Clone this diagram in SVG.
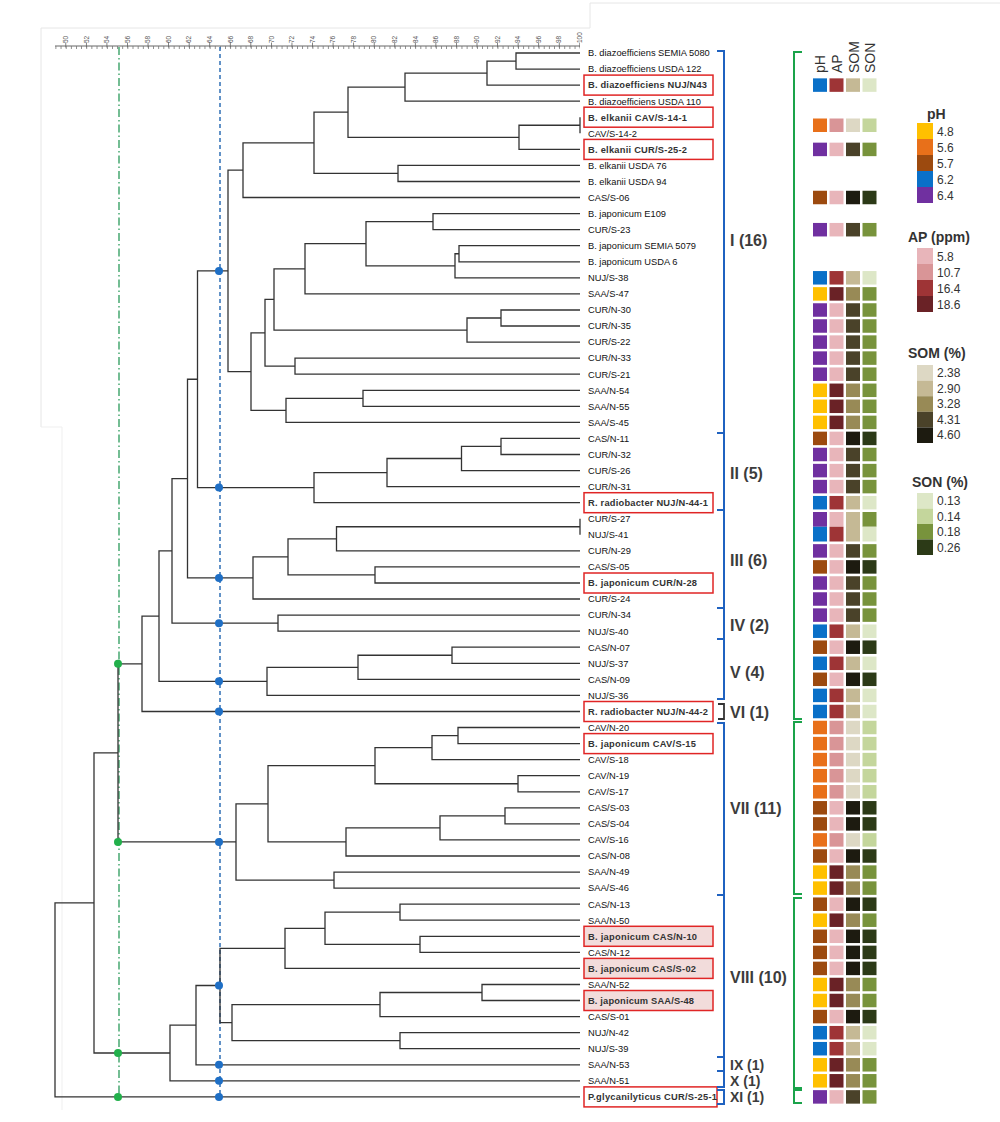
<svg xmlns="http://www.w3.org/2000/svg" xmlns:xlink="http://www.w3.org/1999/xlink" width="1000" height="1122" viewBox="0 0 1000 1122">
<style>
.tr{fill:none;stroke:#333;stroke-width:1.3}
.lb{font-family:"Liberation Sans",Arial,sans-serif;font-size:9.3px;fill:#111}
.bx{font-family:"Liberation Sans",Arial,sans-serif;font-size:9.3px;fill:#333;font-weight:bold}
.rb{fill:#fff;stroke:#e02525;stroke-width:1.5}
.rp{fill:#f2dcdb;stroke:#e02525;stroke-width:1.5}
.cl{font-family:"Liberation Sans",Arial,sans-serif;font-size:16px;font-weight:bold;fill:#3c3c3c}
.cs{font-family:"Liberation Sans",Arial,sans-serif;font-size:14px;font-weight:bold;fill:#3c3c3c}
.bb{fill:none;stroke:#1f62c0;stroke-width:2}
.gb{fill:none;stroke:#1aa34a;stroke-width:2}
.rl{font-family:"Liberation Sans",Arial,sans-serif;font-size:6.5px;fill:#555}
.hd{font-family:"Liberation Sans",Arial,sans-serif;font-size:14px;fill:#333}
.lt{font-family:"Liberation Sans",Arial,sans-serif;font-size:14px;font-weight:bold;fill:#333}
.lv{font-family:"Liberation Sans",Arial,sans-serif;font-size:12px;fill:#333}
.p48{fill:#ffc000}.p56{fill:#e8701a}.p57{fill:#9c4a0f}.p62{fill:#0a70c8}.p64{fill:#7030a0}
.a58{fill:#e8b5ba}.a107{fill:#d99597}.a164{fill:#9e3436}.a186{fill:#6a2226}
.s238{fill:#ddd8c4}.s290{fill:#c5b995}.s328{fill:#988a56}.s431{fill:#4a4229}.s460{fill:#1d1b10}
.n13{fill:#dde7c7}.n14{fill:#c4d69c}.n18{fill:#78933c}.n26{fill:#2c3a17}
.bd{fill:#1f6fc5}.gd{fill:#22b04b}
</style>
<defs>
<g id="rB"><rect x="813" y="-6.75" width="14" height="13.5" class="p62"/><rect x="829.5" y="-6.75" width="14" height="13.5" class="a164"/><rect x="846" y="-6.75" width="14" height="13.5" class="s290"/><rect x="862.5" y="-6.75" width="14" height="13.5" class="n13"/></g>
<g id="rP"><rect x="813" y="-6.75" width="14" height="13.5" class="p64"/><rect x="829.5" y="-6.75" width="14" height="13.5" class="a58"/><rect x="846" y="-6.75" width="14" height="13.5" class="s431"/><rect x="862.5" y="-6.75" width="14" height="13.5" class="n18"/></g>
<g id="rY"><rect x="813" y="-6.75" width="14" height="13.5" class="p48"/><rect x="829.5" y="-6.75" width="14" height="13.5" class="a186"/><rect x="846" y="-6.75" width="14" height="13.5" class="s328"/><rect x="862.5" y="-6.75" width="14" height="13.5" class="n18"/></g>
<g id="rR"><rect x="813" y="-6.75" width="14" height="13.5" class="p57"/><rect x="829.5" y="-6.75" width="14" height="13.5" class="a58"/><rect x="846" y="-6.75" width="14" height="13.5" class="s460"/><rect x="862.5" y="-6.75" width="14" height="13.5" class="n26"/></g>
<g id="rO"><rect x="813" y="-6.75" width="14" height="13.5" class="p56"/><rect x="829.5" y="-6.75" width="14" height="13.5" class="a107"/><rect x="846" y="-6.75" width="14" height="13.5" class="s238"/><rect x="862.5" y="-6.75" width="14" height="13.5" class="n14"/></g>
</defs>
<rect width="1000" height="1122" fill="#fff"/>
<path d="M41 427 V28 H590 V3 H1000" fill="none" stroke="#e6e6e6" stroke-width="1"/>
<path d="M41 427 H62 V1110" fill="none" stroke="#efefef" stroke-width="1"/>

<g id="ruler">
<line x1="55" y1="46" x2="580" y2="46" stroke="#666" stroke-width="1"/>
<line x1="55.5" y1="47.5" x2="580" y2="47.5" stroke="#777" stroke-width="3" stroke-dasharray="0.8 4.34"/>
<line x1="65.4" y1="45" x2="580" y2="45" stroke="#666" stroke-width="5" stroke-dasharray="0.8 19.76"/>
<text class="rl" transform="translate(68,43) rotate(-90)">50</text>
<text class="rl" transform="translate(88.6,43) rotate(-90)">52</text>
<text class="rl" transform="translate(109.1,43) rotate(-90)">54</text>
<text class="rl" transform="translate(129.7,43) rotate(-90)">56</text>
<text class="rl" transform="translate(150.2,43) rotate(-90)">58</text>
<text class="rl" transform="translate(170.8,43) rotate(-90)">60</text>
<text class="rl" transform="translate(191.4,43) rotate(-90)">62</text>
<text class="rl" transform="translate(211.9,43) rotate(-90)">64</text>
<text class="rl" transform="translate(232.5,43) rotate(-90)">66</text>
<text class="rl" transform="translate(253,43) rotate(-90)">68</text>
<text class="rl" transform="translate(273.6,43) rotate(-90)">70</text>
<text class="rl" transform="translate(294.2,43) rotate(-90)">72</text>
<text class="rl" transform="translate(314.7,43) rotate(-90)">74</text>
<text class="rl" transform="translate(335.3,43) rotate(-90)">76</text>
<text class="rl" transform="translate(355.8,43) rotate(-90)">78</text>
<text class="rl" transform="translate(376.4,43) rotate(-90)">80</text>
<text class="rl" transform="translate(397,43) rotate(-90)">82</text>
<text class="rl" transform="translate(417.5,43) rotate(-90)">84</text>
<text class="rl" transform="translate(438.1,43) rotate(-90)">86</text>
<text class="rl" transform="translate(458.6,43) rotate(-90)">88</text>
<text class="rl" transform="translate(479.2,43) rotate(-90)">90</text>
<text class="rl" transform="translate(499.8,43) rotate(-90)">92</text>
<text class="rl" transform="translate(520.3,43) rotate(-90)">94</text>
<text class="rl" transform="translate(540.9,43) rotate(-90)">96</text>
<text class="rl" transform="translate(561.4,43) rotate(-90)">98</text>
<text class="rl" transform="translate(582,43) rotate(-90)">100</text>
</g>

<g id="cutlines">
<line x1="119" y1="47" x2="119" y2="1100" stroke="#2a9a5a" stroke-width="1.3" stroke-dasharray="8 3 1.5 3"/>
<line x1="220" y1="47" x2="220" y2="1100" stroke="#2f6fb5" stroke-width="1.5" stroke-dasharray="4 3"/>
</g>

<g id="connectors" class="tr">
<path d="M580 53 H516 V69.1 H580"/>
<path d="M516 61.05 H487 V85.1 H580"/>
<path d="M487 73.1 H405 V101.2 H580"/>
<path d="M580 117.2 V133.3"/>
<path d="M580 125.25 H519 V149.4 H580"/>
<path d="M405 87.15 H348 V137.3 H519"/>
<path d="M580 165.4 H398 V181.5 H580"/>
<path d="M348 112.2 H314 V173.45 H398"/>
<path d="M314 142.8 H243 V197.5 H580"/>
<path d="M580 213.6 H433 V229.7 H580"/>
<path d="M580 245.7 H459 V261.8 H580"/>
<path d="M459 253.75 H455 V277.8 H580"/>
<path d="M433 221.65 H366 V265.8 H455"/>
<path d="M366 243.7 H305 V293.9 H580"/>
<path d="M580 310 H501 V326 H580"/>
<path d="M501 318 H467 V342.1 H580"/>
<path d="M305 268.8 H274 V330.05 H467"/>
<path d="M580 358.1 H295 V374.2 H580"/>
<path d="M274 299.4 H265 V366.15 H295"/>
<path d="M580 390.3 H363 V406.3 H580"/>
<path d="M363 398.3 H286 V422.4 H580"/>
<path d="M265 332.8 H251 V410.35 H286"/>
<path d="M243 170.15 H228 V371.6 H251"/>
<path d="M580 438.4 H501 V454.5 H580"/>
<path d="M501 446.45 H461.5 V470.6 H580"/>
<path d="M461.5 458.5 H387 V486.6 H580"/>
<path d="M387 472.55 H314 V502.7 H580"/>
<path d="M228 270.9 H197.5 V487.6 H314"/>
<path d="M580 518.7 V534.8"/>
<path d="M580 526.75 H336.5 V550.9 H580"/>
<path d="M580 566.9 H375 V583 H580"/>
<path d="M336.5 538.8 H288 V574.95 H375"/>
<path d="M288 556.9 H253 V599 H580"/>
<path d="M197.5 379.25 H187.5 V577.95 H253"/>
<path d="M580 615.1 H278 V631.2 H580"/>
<path d="M187.5 478.6 H172 V623.15 H278"/>
<path d="M580 647.2 H452 V663.3 H580"/>
<path d="M452 655.25 H358 V679.3 H580"/>
<path d="M358 667.3 H267 V695.4 H580"/>
<path d="M172 550.9 H159 V681.35 H267"/>
<path d="M159 616.1 H142 V711.5 H580"/>
<path d="M580 727.5 H458 V743.6 H580"/>
<path d="M458 735.55 H432 V759.6 H580"/>
<path d="M580 775.7 H518 V791.8 H580"/>
<path d="M432 747.6 H375 V783.75 H518"/>
<path d="M580 807.8 H505 V823.9 H580"/>
<path d="M505 815.85 H440 V839.9 H580"/>
<path d="M440 827.9 H346 V856 H580"/>
<path d="M375 765.7 H268 V841.95 H346"/>
<path d="M580 872.1 H334 V888.1 H580"/>
<path d="M268 803.8 H236 V880.1 H334"/>
<path d="M142 663.8 H118 V841.95 H236"/>
<path d="M580 904.2 H400 V920.2 H580"/>
<path d="M580 936.3 H420 V952.4 H580"/>
<path d="M400 912.2 H325 V944.35 H420"/>
<path d="M325 928.3 H285 V968.4 H580"/>
<path d="M580 984.5 H482 V1000.5 H580"/>
<path d="M482 992.5 H380 V1016.6 H580"/>
<path d="M580 1032.7 H400 V1048.7 H580"/>
<path d="M380 1004.55 H232 V1040.7 H400"/>
<path d="M285 948.35 H220 V1022.6 H232"/>
<path d="M220 985.5 H196 V1064.8 H580"/>
<path d="M196 1025.15 H170 V1080.8 H580"/>
<path d="M118 752.9 H94 V1053 H170"/>
<path d="M94 902.95 H55 V1096.9 H580"/>
</g>

<g id="dots">
<circle class="bd" cx="219" cy="270.9" r="4"/>
<circle class="bd" cx="219" cy="487.6" r="4"/>
<circle class="bd" cx="219" cy="577.95" r="4"/>
<circle class="bd" cx="219" cy="623.15" r="4"/>
<circle class="bd" cx="219" cy="681.35" r="4"/>
<circle class="bd" cx="219" cy="711.5" r="4"/>
<circle class="bd" cx="219" cy="841.95" r="4"/>
<circle class="bd" cx="219" cy="985.5" r="4"/>
<circle class="bd" cx="219" cy="1064.8" r="4"/>
<circle class="bd" cx="219" cy="1080.8" r="4"/>
<circle class="bd" cx="219" cy="1096.9" r="4"/>
<circle class="gd" cx="118" cy="663.8" r="4"/>
<circle class="gd" cx="118" cy="841.95" r="4"/>
<circle class="gd" cx="118" cy="1053" r="4"/>
<circle class="gd" cx="118" cy="1096.9" r="4"/>
</g>

<g id="boxes">
<rect class="rb" x="584" y="75.1" width="129" height="20"/>
<rect class="rb" x="584" y="107.2" width="129" height="20"/>
<rect class="rb" x="584" y="139.4" width="129" height="20"/>
<rect class="rb" x="584" y="492.7" width="129" height="20"/>
<rect class="rb" x="584" y="573" width="129" height="20"/>
<rect class="rb" x="584" y="701.5" width="129" height="20"/>
<rect class="rb" x="584" y="733.6" width="129" height="20"/>
<rect class="rp" x="584" y="926.3" width="129" height="20"/>
<rect class="rp" x="584" y="958.4" width="129" height="20"/>
<rect class="rp" x="584" y="990.5" width="129" height="20"/>
<rect class="rb" x="584" y="1086.9" width="133" height="20"/>
</g>

<g id="leaves">
<text class="lb" x="588" y="56.3">B. diazoefficiens SEMIA 5080</text>
<text class="lb" x="588" y="72.4">B. diazoefficiens USDA 122</text>
<text class="bx" x="588" y="88.4" textLength="119" lengthAdjust="spacing">B. diazoefficiens NUJ/N43</text>
<text class="lb" x="588" y="104.5">B. diazoefficiens USDA 110</text>
<text class="bx" x="588" y="120.5" textLength="99" lengthAdjust="spacing">B. elkanii CAV/S-14-1</text>
<text class="lb" x="588" y="136.6">CAV/S-14-2</text>
<text class="bx" x="588" y="152.7" textLength="99" lengthAdjust="spacing">B. elkanii CUR/S-25-2</text>
<text class="lb" x="588" y="168.7">B. elkanii USDA 76</text>
<text class="lb" x="588" y="184.8">B. elkanii USDA 94</text>
<text class="lb" x="588" y="200.8">CAS/S-06</text>
<text class="lb" x="588" y="216.9">B. japonicum E109</text>
<text class="lb" x="588" y="233">CUR/S-23</text>
<text class="lb" x="588" y="249">B. japonicum SEMIA 5079</text>
<text class="lb" x="588" y="265.1">B. japonicum USDA 6</text>
<text class="lb" x="588" y="281.1">NUJ/S-38</text>
<text class="lb" x="588" y="297.2">SAA/S-47</text>
<text class="lb" x="588" y="313.3">CUR/N-30</text>
<text class="lb" x="588" y="329.3">CUR/N-35</text>
<text class="lb" x="588" y="345.4">CUR/S-22</text>
<text class="lb" x="588" y="361.4">CUR/N-33</text>
<text class="lb" x="588" y="377.5">CUR/S-21</text>
<text class="lb" x="588" y="393.6">SAA/N-54</text>
<text class="lb" x="588" y="409.6">SAA/N-55</text>
<text class="lb" x="588" y="425.7">SAA/S-45</text>
<text class="lb" x="588" y="441.7">CAS/N-11</text>
<text class="lb" x="588" y="457.8">CUR/N-32</text>
<text class="lb" x="588" y="473.9">CUR/S-26</text>
<text class="lb" x="588" y="489.9">CUR/N-31</text>
<text class="bx" x="588" y="506" textLength="120" lengthAdjust="spacing">R. radiobacter NUJ/N-44-1</text>
<text class="lb" x="588" y="522">CUR/S-27</text>
<text class="lb" x="588" y="538.1">NUJ/S-41</text>
<text class="lb" x="588" y="554.2">CUR/N-29</text>
<text class="lb" x="588" y="570.2">CAS/S-05</text>
<text class="bx" x="588" y="586.3" textLength="109" lengthAdjust="spacing">B. japonicum CUR/N-28</text>
<text class="lb" x="588" y="602.3">CUR/S-24</text>
<text class="lb" x="588" y="618.4">CUR/N-34</text>
<text class="lb" x="588" y="634.5">NUJ/S-40</text>
<text class="lb" x="588" y="650.5">CAS/N-07</text>
<text class="lb" x="588" y="666.6">NUJ/S-37</text>
<text class="lb" x="588" y="682.6">CAS/N-09</text>
<text class="lb" x="588" y="698.7">NUJ/S-36</text>
<text class="bx" x="588" y="714.8" textLength="120" lengthAdjust="spacing">R. radiobacter NUJ/N-44-2</text>
<text class="lb" x="588" y="730.8">CAV/N-20</text>
<text class="bx" x="588" y="746.9" textLength="108" lengthAdjust="spacing">B. japonicum CAV/S-15</text>
<text class="lb" x="588" y="762.9">CAV/S-18</text>
<text class="lb" x="588" y="779">CAV/N-19</text>
<text class="lb" x="588" y="795.1">CAV/S-17</text>
<text class="lb" x="588" y="811.1">CAS/S-03</text>
<text class="lb" x="588" y="827.2">CAS/S-04</text>
<text class="lb" x="588" y="843.2">CAV/S-16</text>
<text class="lb" x="588" y="859.3">CAS/N-08</text>
<text class="lb" x="588" y="875.4">SAA/N-49</text>
<text class="lb" x="588" y="891.4">SAA/S-46</text>
<text class="lb" x="588" y="907.5">CAS/N-13</text>
<text class="lb" x="588" y="923.5">SAA/N-50</text>
<text class="bx" x="588" y="939.6" textLength="109" lengthAdjust="spacing">B. japonicum CAS/N-10</text>
<text class="lb" x="588" y="955.7">CAS/N-12</text>
<text class="bx" x="588" y="971.7" textLength="108" lengthAdjust="spacing">B. japonicum CAS/S-02</text>
<text class="lb" x="588" y="987.8">SAA/N-52</text>
<text class="bx" x="588" y="1003.8" textLength="106" lengthAdjust="spacing">B. japonicum SAA/S-48</text>
<text class="lb" x="588" y="1019.9">CAS/S-01</text>
<text class="lb" x="588" y="1036">NUJ/N-42</text>
<text class="lb" x="588" y="1052">NUJ/S-39</text>
<text class="lb" x="588" y="1068.1">SAA/N-53</text>
<text class="lb" x="588" y="1084.1">SAA/N-51</text>
<text class="bx" x="588" y="1100.2" textLength="129" lengthAdjust="spacing">P.glycanilyticus CUR/S-25-1</text>
</g>

<g id="clusters">
<path class="bb" d="M717 51 H724 V433 H717"/>
<path class="bb" d="M717 433 H724 V510 H717"/>
<path class="bb" d="M717 510 H724 V608 H717"/>
<path class="bb" d="M717 608 H724 V639 H717"/>
<path class="bb" d="M717 639 H724 V699 H717"/>
<path d="M718 704 H724 V719 H718" fill="none" stroke="#333" stroke-width="1.8"/>
<path class="bb" d="M717 723 H724 V895 H717"/>
<path class="bb" d="M717 895 H724 V1057 H717"/>
<path class="bb" d="M717 1057 H724 V1071 H717"/>
<path class="bb" d="M717 1071 H724 V1087 H717"/>
<path class="bb" d="M717 1090 H724 V1104 H717"/>
<text class="cl" x="730" y="246">I (16)</text>
<text class="cl" x="730" y="479">II (5)</text>
<text class="cl" x="730" y="566">III (6)</text>
<text class="cl" x="730" y="631">IV (2)</text>
<text class="cl" x="730" y="678">V (4)</text>
<text class="cl" x="730" y="718">VI (1)</text>
<text class="cl" x="730" y="814">VII (11)</text>
<text class="cl" x="730" y="983">VIII (10)</text>
<text class="cs" x="730" y="1070">IX (1)</text>
<text class="cs" x="730" y="1086">X (1)</text>
<text class="cs" x="730" y="1102">XI (1)</text>
<path class="gb" d="M802 52 H794 V719 H802"/>
<path class="gb" d="M802 722 H794 V894 H802"/>
<path class="gb" d="M802 898 H794 V1088 H802"/>
<path class="gb" d="M802 1090 H794 V1103 H802"/>
</g>

<g id="heatmap">
<text class="hd" transform="translate(825,73) rotate(-90)">pH</text>
<text class="hd" transform="translate(842,73) rotate(-90)">AP</text>
<text class="hd" transform="translate(858.5,73) rotate(-90)">SOM</text>
<text class="hd" transform="translate(875,73) rotate(-90)">SON</text>
<use href="#rB" y="85.1"/>
<use href="#rO" y="125.25"/>
<use href="#rP" y="149.4"/>
<use href="#rR" y="197.5"/>
<use href="#rP" y="229.7"/>
<use href="#rB" y="277.8"/>
<use href="#rY" y="293.9"/>
<use href="#rP" y="310"/>
<use href="#rP" y="326"/>
<use href="#rP" y="342.1"/>
<use href="#rP" y="358.1"/>
<use href="#rP" y="374.2"/>
<use href="#rY" y="390.3"/>
<use href="#rY" y="406.3"/>
<use href="#rY" y="422.4"/>
<use href="#rR" y="438.4"/>
<use href="#rP" y="454.5"/>
<use href="#rP" y="470.6"/>
<use href="#rP" y="486.6"/>
<use href="#rB" y="502.7"/>
<rect x="813" y="512" width="14" height="14.75" class="p64"/>
<rect x="813" y="526.75" width="14" height="14.75" class="p62"/>
<rect x="829.5" y="512" width="14" height="14.75" class="a58"/>
<rect x="829.5" y="526.75" width="14" height="14.75" class="a164"/>
<rect x="846" y="512" width="14" height="29.5" class="s290"/>
<rect x="862.5" y="512" width="14" height="14.75" class="n18"/>
<rect x="862.5" y="526.75" width="14" height="14.75" class="n13"/>
<use href="#rP" y="550.9"/>
<use href="#rR" y="566.9"/>
<use href="#rP" y="583"/>
<use href="#rP" y="599"/>
<use href="#rP" y="615.1"/>
<use href="#rB" y="631.2"/>
<use href="#rR" y="647.2"/>
<use href="#rB" y="663.3"/>
<use href="#rR" y="679.3"/>
<use href="#rB" y="695.4"/>
<use href="#rB" y="711.5"/>
<use href="#rO" y="727.5"/>
<use href="#rO" y="743.6"/>
<use href="#rO" y="759.6"/>
<use href="#rO" y="775.7"/>
<use href="#rO" y="791.8"/>
<use href="#rR" y="807.8"/>
<use href="#rR" y="823.9"/>
<use href="#rO" y="839.9"/>
<use href="#rR" y="856"/>
<use href="#rY" y="872.1"/>
<use href="#rY" y="888.1"/>
<use href="#rR" y="904.2"/>
<use href="#rY" y="920.2"/>
<use href="#rR" y="936.3"/>
<use href="#rR" y="952.4"/>
<use href="#rR" y="968.4"/>
<use href="#rY" y="984.5"/>
<use href="#rY" y="1000.5"/>
<use href="#rR" y="1016.6"/>
<use href="#rB" y="1032.7"/>
<use href="#rB" y="1048.7"/>
<use href="#rY" y="1064.8"/>
<use href="#rY" y="1080.8"/>
<use href="#rP" y="1096.9"/>
</g>

<g id="legend">
<text class="lt" x="927" y="119">pH</text>
<rect x="917" y="123" width="16" height="16" class="p48"/>
<rect x="917" y="139" width="16" height="16" class="p56"/>
<rect x="917" y="155" width="16" height="16" class="p57"/>
<rect x="917" y="171" width="16" height="16" class="p62"/>
<rect x="917" y="187" width="16" height="16" class="p64"/>
<text class="lv" x="937" y="135.5">4.8</text>
<text class="lv" x="937" y="151.5">5.6</text>
<text class="lv" x="937" y="167.5">5.7</text>
<text class="lv" x="937" y="183.5">6.2</text>
<text class="lv" x="937" y="199.5">6.4</text>
<text class="lt" x="908" y="242">AP (ppm)</text>
<rect x="917" y="248" width="16" height="16" class="a58"/>
<rect x="917" y="264" width="16" height="16" class="a107"/>
<rect x="917" y="280" width="16" height="16" class="a164"/>
<rect x="917" y="296" width="16" height="16" class="a186"/>
<text class="lv" x="937" y="260.5">5.8</text>
<text class="lv" x="937" y="276.5">10.7</text>
<text class="lv" x="937" y="292.5">16.4</text>
<text class="lv" x="937" y="308.5">18.6</text>
<text class="lt" x="908" y="358">SOM (%)</text>
<rect x="917" y="365" width="16" height="15.6" class="s238"/>
<rect x="917" y="380.6" width="16" height="15.6" class="s290"/>
<rect x="917" y="396.2" width="16" height="15.6" class="s328"/>
<rect x="917" y="411.8" width="16" height="15.6" class="s431"/>
<rect x="917" y="427.4" width="16" height="15.6" class="s460"/>
<text class="lv" x="937" y="377">2.38</text>
<text class="lv" x="937" y="392.6">2.90</text>
<text class="lv" x="937" y="408.2">3.28</text>
<text class="lv" x="937" y="423.8">4.31</text>
<text class="lv" x="937" y="439.4">4.60</text>
<text class="lt" x="912" y="487">SON (%)</text>
<rect x="917" y="493" width="16" height="15.5" class="n13"/>
<rect x="917" y="508.5" width="16" height="15.5" class="n14"/>
<rect x="917" y="524" width="16" height="15.5" class="n18"/>
<rect x="917" y="539.5" width="16" height="15.5" class="n26"/>
<text class="lv" x="937" y="505">0.13</text>
<text class="lv" x="937" y="520.5">0.14</text>
<text class="lv" x="937" y="536">0.18</text>
<text class="lv" x="937" y="551.5">0.26</text>
</g>
</svg>
